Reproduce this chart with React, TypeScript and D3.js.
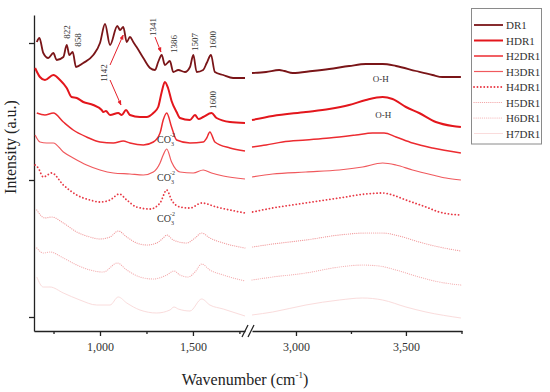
import React, { useRef, useEffect } from 'react';
import * as d3 from 'd3';

type Pt = [number, number];

const seriesNames = ['DR1', 'HDR1', 'H2DR1', 'H3DR1', 'H4DR1', 'H5DR1', 'H6DR1', 'H7DR1'];

// fingerprint region (cm-1, intensity a.u.)
const dr1Low: Pt[] = [[660, 2.89], [674, 2.93], [695, 2.78], [722, 2.73], [749, 2.78], [767, 2.71], [803, 2.74], [821, 2.86], [835, 2.76], [853, 2.79], [871, 2.64], [910, 2.68], [964, 2.76], [1000, 2.88], [1027, 3.07], [1054, 2.86], [1093, 3.05], [1108, 3.01], [1125, 3.04], [1144, 2.89], [1161, 2.94], [1179, 2.89], [1197, 2.84], [1233, 2.73], [1269, 2.63], [1296, 2.61], [1313, 2.69], [1332, 2.76], [1349, 2.66], [1376, 2.70], [1394, 2.59], [1421, 2.61], [1457, 2.59], [1484, 2.64], [1502, 2.76], [1520, 2.59], [1555, 2.61], [1574, 2.68], [1597, 2.76], [1618, 2.59], [1663, 2.56], [1716, 2.53], [1780, 2.53]];
const hdr1Low: Pt[] = [[651, 2.63], [677, 2.54], [704, 2.51], [749, 2.56], [785, 2.51], [821, 2.43], [847, 2.34], [875, 2.33], [910, 2.29], [964, 2.26], [1009, 2.21], [1018, 2.19], [1032, 2.20], [1054, 2.16], [1098, 2.18], [1117, 2.16], [1140, 2.21], [1161, 2.16], [1215, 2.14], [1251, 2.14], [1287, 2.18], [1313, 2.24], [1332, 2.39], [1349, 2.49], [1366, 2.43], [1385, 2.30], [1412, 2.19], [1430, 2.13], [1484, 2.11], [1511, 2.16], [1530, 2.12], [1555, 2.14], [1600, 2.18], [1627, 2.13], [1699, 2.09], [1780, 2.08]];
const h2dr1Low: Pt[] = [[660, 2.18], [704, 2.16], [749, 2.18], [803, 2.09], [856, 2.01], [928, 1.94], [1000, 1.89], [1072, 1.88], [1125, 1.90], [1161, 1.88], [1233, 1.86], [1287, 1.89], [1323, 1.98], [1340, 2.11], [1359, 2.18], [1385, 2.04], [1412, 1.91], [1484, 1.88], [1555, 1.89], [1574, 1.93], [1591, 1.99], [1618, 1.89], [1699, 1.83], [1780, 1.80]];
const h3dr1Low: Pt[] = [[651, 1.96], [677, 1.89], [713, 1.88], [749, 1.88], [803, 1.79], [856, 1.73], [928, 1.66], [1000, 1.61], [1072, 1.58], [1161, 1.57], [1233, 1.56], [1287, 1.59], [1323, 1.68], [1340, 1.76], [1359, 1.82], [1385, 1.69], [1430, 1.59], [1502, 1.58], [1555, 1.61], [1600, 1.58], [1663, 1.55], [1780, 1.52]];
const h4dr1Low: Pt[] = [[651, 1.66], [668, 1.63], [695, 1.54], [740, 1.58], [803, 1.46], [875, 1.36], [946, 1.31], [1000, 1.29], [1054, 1.31], [1104, 1.37], [1144, 1.31], [1197, 1.24], [1269, 1.22], [1323, 1.28], [1359, 1.41], [1385, 1.31], [1430, 1.24], [1484, 1.23], [1547, 1.28], [1627, 1.24], [1780, 1.18]];
const h5dr1Low: Pt[] = [[660, 1.21], [704, 1.13], [740, 1.14], [803, 1.08], [875, 0.99], [946, 0.94], [1000, 0.92], [1054, 0.94], [1098, 1.00], [1144, 0.94], [1197, 0.88], [1251, 0.86], [1305, 0.88], [1340, 0.93], [1359, 0.96], [1394, 0.91], [1466, 0.88], [1511, 0.93], [1547, 0.98], [1591, 0.93], [1663, 0.88], [1780, 0.83]];
const h6dr1Low: Pt[] = [[660, 0.83], [695, 0.78], [731, 0.79], [803, 0.73], [875, 0.66], [946, 0.61], [1018, 0.59], [1093, 0.68], [1144, 0.61], [1215, 0.54], [1287, 0.52], [1359, 0.56], [1398, 0.60], [1430, 0.56], [1474, 0.54], [1511, 0.59], [1547, 0.67], [1591, 0.61], [1663, 0.56], [1780, 0.50]];
const h7dr1Low: Pt[] = [[660, 0.54], [695, 0.44], [731, 0.44], [803, 0.38], [892, 0.31], [982, 0.26], [1054, 0.26], [1098, 0.34], [1144, 0.28], [1215, 0.21], [1305, 0.18], [1376, 0.21], [1398, 0.24], [1421, 0.22], [1484, 0.20], [1547, 0.32], [1591, 0.26], [1663, 0.22], [1780, 0.15]];

// O-H stretching region
const dr1High: Pt[] = [[2800, 2.58], [2864, 2.59], [2924, 2.61], [2947, 2.60], [2985, 2.58], [3075, 2.60], [3151, 2.62], [3242, 2.65], [3318, 2.67], [3394, 2.67], [3455, 2.65], [3545, 2.60], [3621, 2.56], [3666, 2.54], [3750, 2.54]];
const hdr1High: Pt[] = [[2800, 2.11], [2894, 2.15], [3045, 2.19], [3151, 2.22], [3242, 2.26], [3318, 2.31], [3394, 2.34], [3439, 2.32], [3500, 2.24], [3560, 2.18], [3636, 2.09], [3712, 2.05], [3750, 2.04]];
const h2dr1High: Pt[] = [[2800, 1.84], [2864, 1.86], [2939, 1.89], [3045, 1.91], [3151, 1.93], [3273, 1.96], [3348, 1.98], [3401, 1.98], [3455, 1.94], [3530, 1.88], [3621, 1.83], [3750, 1.78]];
const h3dr1High: Pt[] = [[2800, 1.54], [2894, 1.57], [3045, 1.59], [3197, 1.61], [3303, 1.64], [3394, 1.68], [3455, 1.66], [3530, 1.61], [3621, 1.56], [3682, 1.53], [3750, 1.51]];
const h4dr1High: Pt[] = [[2803, 1.19], [2894, 1.23], [3045, 1.28], [3197, 1.33], [3318, 1.37], [3394, 1.38], [3439, 1.36], [3500, 1.31], [3591, 1.24], [3651, 1.19], [3742, 1.16]];
const h5dr1High: Pt[] = [[2803, 0.84], [2894, 0.87], [3045, 0.91], [3197, 0.96], [3318, 0.98], [3394, 0.98], [3469, 0.95], [3560, 0.89], [3651, 0.84], [3750, 0.80]];
const h6dr1High: Pt[] = [[2800, 0.51], [2894, 0.54], [3045, 0.58], [3197, 0.64], [3303, 0.66], [3379, 0.65], [3455, 0.61], [3560, 0.54], [3651, 0.49], [3750, 0.46]];
const h7dr1High: Pt[] = [[2800, 0.16], [2894, 0.19], [3045, 0.26], [3197, 0.31], [3303, 0.33], [3394, 0.31], [3500, 0.24], [3591, 0.19], [3750, 0.13]];

const lowSeries = [dr1Low, hdr1Low, h2dr1Low, h3dr1Low, h4dr1Low, h5dr1Low, h6dr1Low, h7dr1Low];
const highSeries = [dr1High, hdr1High, h2dr1High, h3dr1High, h4dr1High, h5dr1High, h6dr1High, h7dr1High];

const xTicksLow = [1000, 1500];
const xMinorLow = [750, 1250, 1750];
const xTicksHigh = [3000, 3500];
const xMinorHigh = [3250];
const yTicks = [0.14, 1.51, 2.88];

// peak labels: text, wavenumber, intensity (label centre)
const peakLabels: [string, number, number][] = [
  ['822', 822, 2.99], ['858', 880, 2.91], ['1341', 1287, 3.04], ['1386', 1399, 2.87],
  ['1507', 1511, 2.89], ['1600', 1609, 2.91], ['1142', 1023, 2.58], ['1600', 1609, 2.31],
];
const co3Labels: Pt[] = [[1355, 1.88], [1355, 1.50], [1355, 1.09]];
const ohLabels: Pt[] = [[3386, 2.52], [3397, 2.16]];
// arrows: from [wn, I] to [wn, I]
const arrows: [number, number, number, number][] = [
  [1296, 2.94, 1328, 2.79], [1054, 2.66, 1125, 2.96], [1054, 2.51, 1113, 2.26],
];

const colors = ['#7a1518', '#e3161c', '#ec2b30', '#f0595d', '#e83a46', '#f19c9e', '#f4b0b2', '#fadcdc'];
const widths = [1.8, 2, 1.5, 1.2, 1.8, 1.2, 1.2, 1];
const dashes = [null, null, null, null, '0.1 3.3', '0.1 2', '0.1 2', null];

const FONT = '"Liberation Serif", "DejaVu Serif", serif';

export default function App() {
  const svgRef = useRef<SVGSVGElement>(null);

  useEffect(() => {
    document.body.style.margin = '0';
    const svg = d3.select(svgRef.current);
    svg.selectAll('*').remove();

    const xLow = d3.scaleLinear().domain([645, 1780]).range([34, 245]);
    const xHigh = d3.scaleLinear().domain([2800, 3755]).range([252, 462]);
    const y = d3.scaleLinear().domain([0, 3.16]).range([331, 15]);

    const axisColor = '#222';

    // y axis
    const yAxis = svg.append('g').attr('transform', 'translate(34,0)')
      .call(d3.axisLeft(y).tickValues(yTicks).tickSize(5).tickSizeOuter(0).tickFormat(() => ''));

    // x axes
    const lowAxis = svg.append('g').attr('transform', 'translate(0,331)')
      .call(d3.axisBottom(xLow).tickValues(xTicksLow).tickSize(5).tickSizeOuter(0).tickPadding(6).tickFormat(d3.format(',')));
    const lowMinor = svg.append('g').attr('transform', 'translate(0,331)')
      .call(d3.axisBottom(xLow).tickValues(xMinorLow).tickSize(3).tickFormat(() => ''));
    const highAxis = svg.append('g').attr('transform', 'translate(0,331)')
      .call(d3.axisBottom(xHigh).tickValues(xTicksHigh).tickSize(5).tickSizeOuter(0).tickPadding(6).tickFormat(d3.format(',')));
    const highMinor = svg.append('g').attr('transform', 'translate(0,331)')
      .call(d3.axisBottom(xHigh).tickValues(xMinorHigh).tickSize(3).tickFormat(() => ''));
    lowMinor.select('.domain').remove();
    highMinor.select('.domain').remove();

    [yAxis, lowAxis, lowMinor, highAxis, highMinor].forEach(g => {
      g.selectAll('path, line').attr('stroke', axisColor).attr('stroke-width', 1.3);
      g.selectAll('text').attr('font-family', FONT).attr('font-size', 12).attr('fill', '#333');
    });

    // end tick on right + break marks
    const xEnd = xHigh.range()[1];
    svg.append('line').attr('x1', xEnd).attr('x2', xEnd).attr('y1', 331).attr('y2', 334)
      .attr('stroke', axisColor).attr('stroke-width', 1.3);
    [245, 251].forEach(bx => {
      svg.append('line').attr('x1', bx - 3).attr('y1', 337).attr('x2', bx + 3).attr('y2', 325)
        .attr('stroke', axisColor).attr('stroke-width', 1.2);
    });

    // spectra
    const lineLow = d3.line<Pt>().x(d => xLow(d[0])).y(d => y(d[1])).curve(d3.curveMonotoneX);
    const lineHigh = d3.line<Pt>().x(d => xHigh(d[0])).y(d => y(d[1])).curve(d3.curveMonotoneX);

    const lines = svg.append('g');
    for (let i = seriesNames.length - 1; i >= 0; i--) {
      [lineLow(lowSeries[i]), lineHigh(highSeries[i])].forEach(dpath => {
        const p = lines.append('path').attr('d', dpath).attr('fill', 'none')
          .attr('stroke', colors[i]).attr('stroke-width', widths[i])
          .attr('stroke-linejoin', 'round');
        if (dashes[i]) p.attr('stroke-dasharray', dashes[i]).attr('stroke-linecap', 'round');
      });
    }

    // annotations
    const ann = svg.append('g').attr('font-family', FONT).attr('fill', '#333');
    peakLabels.forEach(([t, wn, v]) => {
      ann.append('text')
        .attr('transform', `translate(${xLow(wn)},${y(v)}) rotate(-90)`)
        .attr('text-anchor', 'middle').attr('dominant-baseline', 'central')
        .attr('font-size', 9).text(t);
    });
    co3Labels.forEach(([wn, v]) => {
      const t = ann.append('text').attr('x', xLow(wn)).attr('y', y(v))
        .attr('text-anchor', 'middle').attr('font-size', 10);
      t.append('tspan').text('CO');
      t.append('tspan').attr('font-size', 6).attr('dy', 3).text('3');
      t.append('tspan').attr('font-size', 6).attr('dx', -4).attr('dy', -9).text('-2');
    });
    ohLabels.forEach(([wn, v]) => {
      ann.append('text').attr('x', xHigh(wn)).attr('y', y(v))
        .attr('text-anchor', 'middle').attr('dominant-baseline', 'central')
        .attr('font-size', 9).text('O-H');
    });

    svg.append('defs').append('marker')
      .attr('id', 'arrowhead').attr('viewBox', '0 0 10 10').attr('refX', 9).attr('refY', 5)
      .attr('markerWidth', 5).attr('markerHeight', 5).attr('orient', 'auto')
      .append('path').attr('d', 'M0,1 L10,5 L0,9 z').attr('fill', '#e5202a');
    arrows.forEach(([w1, v1, w2, v2]) => {
      svg.append('line')
        .attr('x1', xLow(w1)).attr('y1', y(v1)).attr('x2', xLow(w2)).attr('y2', y(v2))
        .attr('stroke', '#e5202a').attr('stroke-width', 1).attr('marker-end', 'url(#arrowhead)');
    });

    // axis titles
    svg.append('text').attr('transform', 'translate(16,147) rotate(-90)')
      .attr('text-anchor', 'middle').attr('font-family', FONT).attr('font-size', 16)
      .attr('fill', '#222').text('Intensity (a.u.)');
    const xt = svg.append('text').attr('x', 245).attr('y', 385)
      .attr('text-anchor', 'middle').attr('font-family', FONT).attr('font-size', 16).attr('fill', '#222');
    xt.append('tspan').text('Wavenumber (cm');
    xt.append('tspan').attr('font-size', 9).attr('dy', -7).text('-1');
    xt.append('tspan').attr('dy', 7).text(')');

    // legend
    const lg = svg.append('g');
    lg.append('rect').attr('x', 471.5).attr('y', 8.5).attr('width', 70).attr('height', 135.5)
      .attr('fill', '#fff').attr('stroke', '#8a8a8a').attr('stroke-width', 1);
    seriesNames.forEach((name, i) => {
      const ly = 25 + i * 15.5;
      const l = lg.append('line').attr('x1', 474).attr('x2', 503).attr('y1', ly).attr('y2', ly)
        .attr('stroke', colors[i]).attr('stroke-width', widths[i]);
      if (dashes[i]) l.attr('stroke-dasharray', dashes[i]).attr('stroke-linecap', 'round');
      lg.append('text').attr('x', 506).attr('y', ly).attr('dominant-baseline', 'central')
        .attr('font-family', FONT).attr('font-size', 11).attr('fill', '#333').text(name);
    });
  }, []);

  return <svg ref={svgRef} width={550} height={392} style={{ display: 'block', background: '#fff' }} />;
}
